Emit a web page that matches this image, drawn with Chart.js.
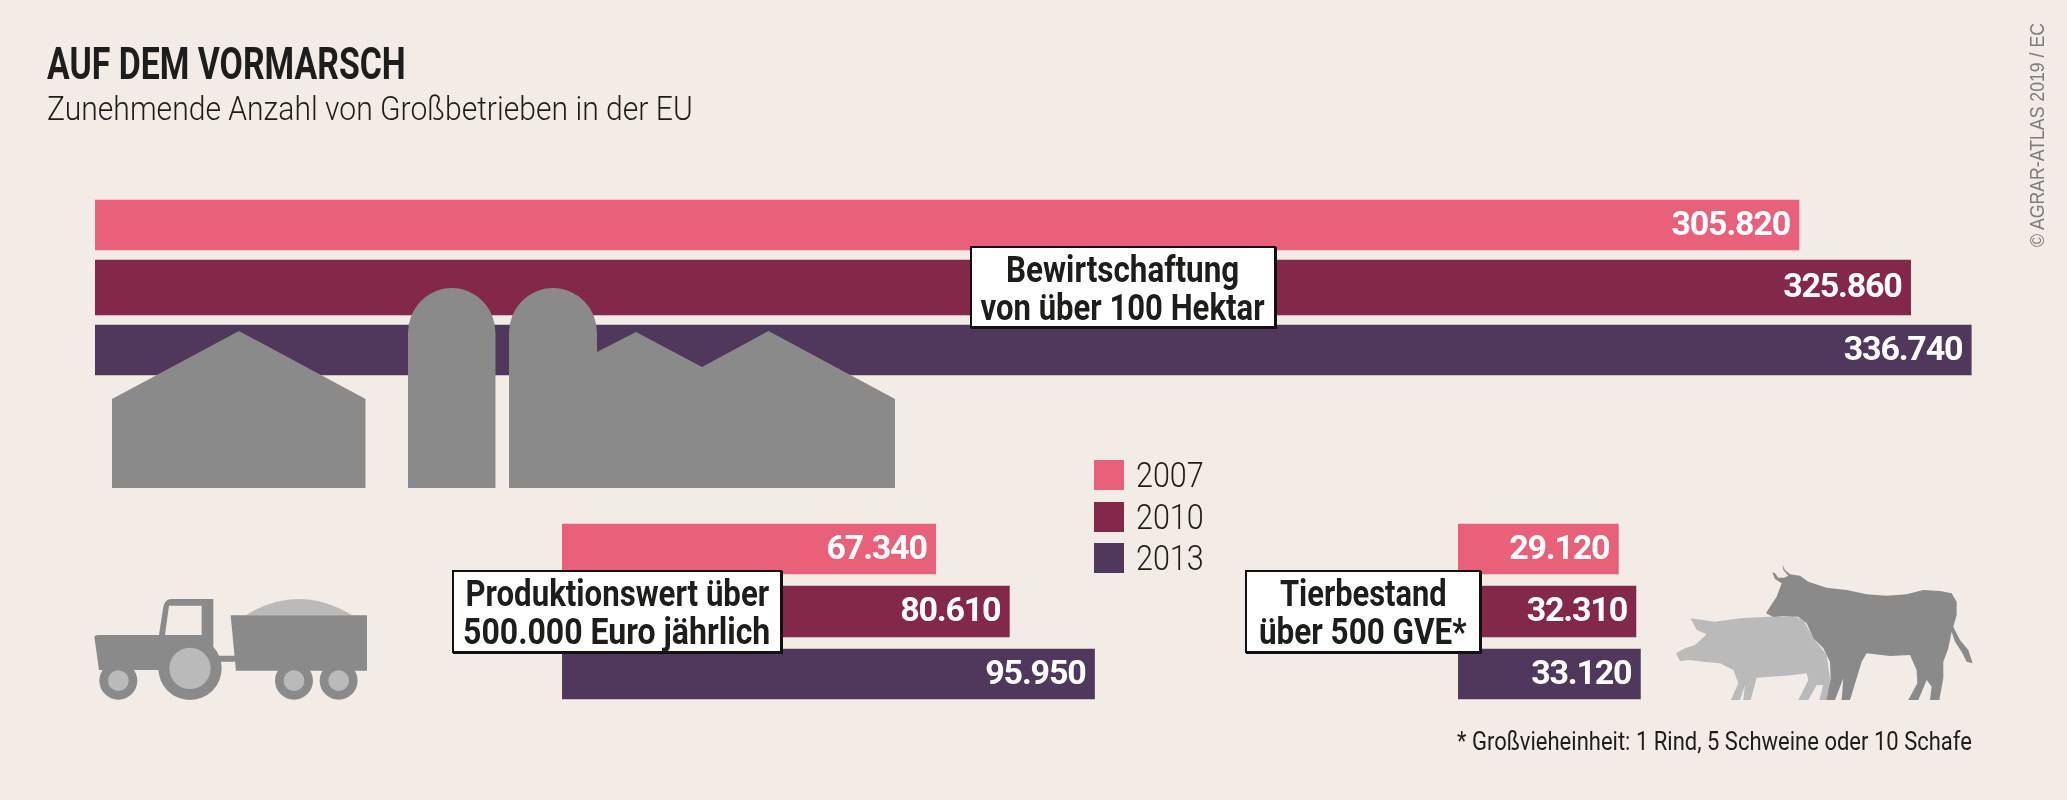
<!DOCTYPE html>
<html lang="de">
<head>
<meta charset="utf-8">
<title>Auf dem Vormarsch</title>
<script src="https://cdn.jsdelivr.net/npm/chart.js@4/dist/chart.umd.min.js"></script>
<style>
  html, body { margin: 0; padding: 0; width: 2067px; height: 800px; overflow: hidden; background: #f2ebe6; }
  body { position: relative; font-family: Roboto, "Liberation Sans", sans-serif; color: #1d1d1b; }
  canvas, svg, .txt, .box, .swatch { position: absolute; }
  .txt { line-height: 1; white-space: nowrap; transform-origin: left center; }
  #title { left: 47px; top: 42px; font-size: 44px; font-weight: 700; }
  #subtitle { left: 47px; top: 91px; font-size: 34px; font-weight: 300; }
  #note { right: 95px; top: 729px; font-size: 25px; transform-origin: right center; }
  #source { left: 2026px; top: 247px; font-family: "Liberation Sans", sans-serif; font-size: 21px; color: #7d7d7d;
            transform-origin: 0 0; }
  .box { background: #fff; border: 2px solid #111; box-shadow: 1px 1px 0 #111; box-sizing: border-box; text-align: center;
         font-size: 36px; font-weight: 700; line-height: 38px; padding-top: 3px; white-space: nowrap; }
  .box span { display: inline-block; margin: 0 -100px; }
  #boxFarm { left: 970px; top: 246px; width: 306px; height: 82px; }
  #boxOutput { left: 452px; top: 570px; width: 330px; height: 83px; }
  #boxStock { left: 1245px; top: 570px; width: 236px; height: 83px; }
  .swatch { left: 1094px; width: 30px; height: 30px; }
  .year { left: 1136px; font-size: 35px; font-weight: 300; }
</style>
</head>
<body>
<canvas id="farmChart" style="left:95px;top:190px"></canvas>
<canvas id="outputChart" style="left:562px;top:514px"></canvas>
<canvas id="stockChart" style="left:1458px;top:514px"></canvas>

<!-- Bauernhof -->
<svg width="2067" height="800" style="left:0;top:0" fill="#8a8a8a">
  <path d="M112,399 L239,331 L365.5,399 V488 H112 Z"/>
  <path d="M408,488 V333 A43.75,45 0 0 1 495.5,333 V488 Z"/>
  <path d="M509,488 V333 A44,45 0 0 1 597,333 V352 L636,332 L702,367 L768.5,331 L895,399 V488 Z"/>
  <!-- Traktor -->
  <g transform="translate(85,590) scale(0.3333)">
    <path fill="#bababa" d="M482,76 Q640,-22 802,76 Z"/>
    <path fill-rule="evenodd" d="M28,140 Q30,135 40,135 L222,135 L235,50 Q240,27 260,27 L385,27 L385,170 L400,197 L450,197 L450,215 L405,215 L405,240 L42,240 Z M252,47 L350,47 L350,135 L240,135 Z"/>
    <path d="M437,76 L846,76 L846,242 L453,242 Z"/>
    <circle cx="315" cy="235" r="95"/><circle cx="315" cy="235" r="62" fill="#bababa"/>
    <circle cx="100" cy="272" r="57"/><circle cx="100" cy="272" r="31" fill="#bababa"/>
    <circle cx="627" cy="272" r="57"/><circle cx="627" cy="272" r="31" fill="#bababa"/>
    <circle cx="761" cy="272" r="57"/><circle cx="761" cy="272" r="31" fill="#bababa"/>
  </g>
  <!-- Schwein und Rind -->
  <g transform="translate(1660,555) scale(0.3333)">
    <path fill="#bababa" d="M92,190 L165,200 L240,190 L330,185 L400,183 L430,195 L460,250 L500,300 L510,370 L505,435 L478,435 L490,390 L470,390 L445,435 L415,435 L445,375 L440,355 L380,362 L290,368 L272,435 L250,435 L255,390 L240,435 L213,435 L235,385 L220,345 L180,325 L130,320 L90,315 L60,318 L48,295 L75,280 L105,270 L140,238 L110,225 Z"/>
    <path d="M368,30 L375,45 L390,58 L420,62 L445,80 L500,98 L560,105 L620,118 L680,122 L740,118 L790,105 L840,108 L875,115 L890,140 L890,180 L880,215 L900,255 L925,285 L938,325 L920,320 L905,290 L885,260 L875,230 L865,280 L850,320 L850,370 L838,435 L810,435 L815,395 L800,375 L775,435 L745,435 L772,385 L770,345 L750,300 L690,303 L620,295 L605,320 L590,370 L570,435 L545,435 L550,370 L525,435 L500,435 L512,370 L510,320 L490,280 L460,250 L440,205 L415,185 L370,183 L340,186 L318,175 L330,155 L350,125 L365,85 L345,72 L337,52 L345,55 L355,68 L372,68 L385,62 L370,45 Z"/>
  </g>
</svg>

<div class="txt" id="title" data-w="359">AUF DEM VORMARSCH</div>
<div class="txt" id="subtitle" data-w="646">Zunehmende Anzahl von Großbetrieben in der EU</div>
<div class="txt" id="note" data-w="515">* Großvieheinheit: 1 Rind, 5 Schweine oder 10 Schafe</div>
<div class="txt" id="source" data-w="224" data-rot="1">© AGRAR-ATLAS 2019 / EC</div>

<div class="box" id="boxFarm"><span data-w="233">Bewirtschaftung</span><br><span data-w="284">von über 100 Hektar</span></div>
<div class="box" id="boxOutput"><span data-w="304">Produktionswert über</span><br><span data-w="307">500.000 Euro jährlich</span></div>
<div class="box" id="boxStock"><span data-w="167">Tierbestand</span><br><span data-w="208">über 500 GVE*</span></div>

<div id="legend"></div>

<script>
/* ── Data ─────────────────────────────────────────────── */
const YEARS       = ['2007', '2010', '2013'];
const FARMLAND    = [305820, 325860, 336740];   // über 100 Hektar
const OUTPUT      = [67340, 80610, 95950];      // über 500.000 Euro
const LIVESTOCK   = [29120, 32310, 33120];      // über 500 GVE

const YEAR_COLORS = ['#e8607a', '#84284a', '#4f385c'];

/* ── Value labels at the end of each bar ──────────────── */
const endLabels = {
    id: 'endLabels',
    afterDatasetsDraw(chart) {
        const ctx = chart.ctx;
        ctx.save();
        ctx.font = '700 34px Roboto, "Liberation Sans", sans-serif';
        ctx.letterSpacing = '-1.2px';
        ctx.fillStyle = '#fff';
        ctx.textAlign = 'right';
        ctx.textBaseline = 'middle';
        chart.data.datasets.forEach((ds, i) => {
            const bar = chart.getDatasetMeta(i).data[i];
            const label = ds.data[i].toString().replace(/(\d{3})$/, '.$1');
            ctx.fillText(label, bar.x - 9, bar.y + 1);
        });
        ctx.restore();
    },
};

/* One dataset per year so each bar can have its own thickness */
function makeChart(id, values, width, axisMax, thickness) {
    const canvas = document.getElementById(id);
    canvas.width = width;
    canvas.height = 200;
    return new Chart(canvas, {
        type: 'bar',
        data: {
            labels: YEARS,
            datasets: YEARS.map((year, i) => ({
                label: year,
                data: values.map((v, j) => (j === i ? v : null)),
                backgroundColor: YEAR_COLORS[i],
                barThickness: thickness[i],
                grouped: false,
            })),
        },
        options: {
            indexAxis: 'y',
            responsive: false,
            animation: false,
            layout: { padding: { top: 3.75, bottom: 8.75, left: 0, right: 0 } },
            plugins: { legend: { display: false }, tooltip: { enabled: false } },
            scales: {
                x: { display: false, min: 0, max: axisMax },
                y: { display: false },
            },
        },
        plugins: [endLabels],
    });
}

makeChart('farmChart', FARMLAND, 1900, 341000, [50, 55, 50]);
makeChart('outputChart', OUTPUT, 540, 97300, [50, 51, 50]);
makeChart('stockChart', LIVESTOCK, 190, 34500, [50, 51, 50]);

/* ── Legend ───────────────────────────────────────────── */
const legend = document.getElementById('legend');
YEARS.forEach((year, i) => {
    const top = [460, 502, 543][i];
    legend.innerHTML += `<div class="swatch" style="top:${top}px;background:${YEAR_COLORS[i]}"></div>` +
        `<div class="txt year" data-w="68" style="top:${top - 2}px">${year}</div>`;
});

/* The original face is condensed, so squeeze each text to its measured width */
document.querySelectorAll('[data-w]').forEach(el => {
    const squeeze = `scaleX(${el.dataset.w / el.offsetWidth})`;
    el.style.transform = el.dataset.rot ? `rotate(-90deg) ${squeeze}` : squeeze;
});
</script>
</body>
</html>
